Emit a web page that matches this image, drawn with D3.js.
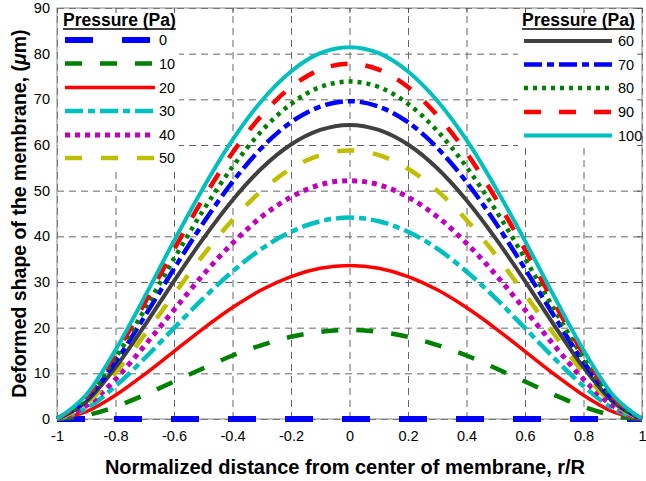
<!DOCTYPE html>
<html>
<head>
    <meta charset="utf-8">
    <title>Deformed membrane</title>
    <script src="https://cdn.jsdelivr.net/npm/d3@7"></script>
    <style>
        body { margin: 0; background: #fff; }
        text { font-family: "Liberation Sans", Arial, sans-serif; }
    </style>
</head>
<body>
<div id="chart"></div>
<script>
// normalized radius r/R
var positions = [-1, -0.9, -0.8, -0.7, -0.6, -0.5, -0.4, -0.3, -0.2, -0.1, 0, 0.1, 0.2, 0.3, 0.4, 0.5, 0.6, 0.7, 0.8, 0.9, 1];

// pressure of each curve (Pa)
var pressures = [0, 10, 20, 30, 40, 50, 60, 70, 80, 90, 100];

// deflection (um)
var p0   = [0, 0, 0, 0, 0, 0, 0, 0, 0, 0, 0, 0, 0, 0, 0, 0, 0, 0, 0, 0, 0];
var p10  = [0, 0.8, 2.7, 5.3, 8.2, 11.1, 13.9, 16.2, 18.0, 19.1, 19.5, 19.1, 18.0, 16.2, 13.9, 11.1, 8.2, 5.3, 2.7, 0.8, 0];
var p20  = [0, 1.6, 5.2, 9.8, 14.8, 19.8, 24.4, 28.3, 31.2, 33.0, 33.6, 33.0, 31.2, 28.3, 24.4, 19.8, 14.8, 9.8, 5.2, 1.6, 0];
var p30  = [0, 2.3, 7.2, 13.3, 19.9, 26.4, 32.3, 37.3, 41.0, 43.3, 44.1, 43.3, 41.0, 37.3, 32.3, 26.4, 19.9, 13.3, 7.2, 2.3, 0];
var p40  = [0, 2.9, 8.7, 16.1, 23.9, 31.6, 38.5, 44.3, 48.6, 51.3, 52.2, 51.3, 48.6, 44.3, 38.5, 31.6, 23.9, 16.1, 8.7, 2.9, 0];
var p50  = [0, 3.4, 10.1, 18.5, 27.3, 35.9, 43.6, 50.0, 54.8, 57.8, 58.8, 57.8, 54.8, 50.0, 43.6, 35.9, 27.3, 18.5, 10.1, 3.4, 0];
var p60  = [0, 3.8, 11.3, 20.5, 30.2, 39.5, 47.9, 54.9, 60.1, 63.3, 64.4, 63.3, 60.1, 54.9, 47.9, 39.5, 30.2, 20.5, 11.3, 3.8, 0];
var p70  = [0, 4.3, 12.5, 22.5, 32.9, 42.9, 51.9, 59.4, 65.0, 68.4, 69.6, 68.4, 65.0, 59.4, 51.9, 42.9, 32.9, 22.5, 12.5, 4.3, 0];
var p80  = [0, 4.6, 13.4, 24.0, 35.1, 45.7, 55.2, 63.1, 69.0, 72.7, 73.9, 72.7, 69.0, 63.1, 55.2, 45.7, 35.1, 24.0, 13.4, 4.6, 0];
var p90  = [0, 4.9, 14.3, 25.4, 37.1, 48.3, 58.3, 66.5, 72.7, 76.5, 77.8, 76.5, 72.7, 66.5, 58.3, 48.3, 37.1, 25.4, 14.3, 4.9, 0];
var p100 = [0, 5.3, 15.1, 26.8, 39.0, 50.6, 61.1, 69.7, 76.1, 80.1, 81.4, 80.1, 76.1, 69.7, 61.1, 50.6, 39.0, 26.8, 15.1, 5.3, 0];

var xTicks = [-1, -0.8, -0.6, -0.4, -0.2, 0, 0.2, 0.4, 0.6, 0.8, 1];
var yTicks = [0, 10, 20, 30, 40, 50, 60, 70, 80, 90];

// line styles, one per curve (matlab-ish)
var colors = ["#0000ff", "#008000", "#ff0000", "#00bfbf", "#bf00bf", "#bfbf00", "#404040", "#0000ff", "#008000", "#ff0000", "#00bfbf"];
var dashes = ["28,29", "17,18", null, "18,5,7,5", "5,5", "17,19", null, "18,5,7,5", "4,5", "17,18", null];
var widths = [6, 4.5, 3.5, 4.5, 5, 4.5, 4, 4.5, 4.5, 4.5, 4];

var series = [p0, p10, p20, p30, p40, p50, p60, p70, p80, p90, p100].map(function(vals, i) {
    return { pressure: pressures[i], values: vals.map(function(v, j) { return { r: positions[j], w: v }; }) };
});

var width = 646, height = 481;
var plotL = 57, plotR = 642, plotT = 8, plotB = 419;

var svg = d3.select("#chart").append("svg")
    .attr("width", width)
    .attr("height", height);

svg.append("rect").attr("width", width).attr("height", height).attr("fill", "#fff");

var x = d3.scaleLinear().domain([-1, 1]).range([plotL, plotR]);
var y = d3.scaleLinear().domain([0, 90]).range([plotB, plotT]);

// dashed grid
var grid = svg.append("g");
grid.append("g")
    .attr("transform", "translate(0," + plotB + ")")
    .call(d3.axisBottom(x).tickValues(xTicks).tickSize(-(plotB - plotT)).tickFormat(""))
    .call(function(g) { g.select(".domain").remove(); });
grid.append("g")
    .attr("transform", "translate(" + plotL + ",0)")
    .call(d3.axisLeft(y).tickValues(yTicks).tickSize(-(plotR - plotL)).tickFormat(""))
    .call(function(g) { g.select(".domain").remove(); });
grid.selectAll("line")
    .attr("stroke", "#666")
    .attr("stroke-width", 1)
    .attr("stroke-dasharray", "7,5");

// white legend boxes hide the grid behind them
svg.append("rect").attr("x", plotL + 1).attr("y", plotT + 1).attr("width", 121).attr("height", 159).attr("fill", "#fff");
svg.append("rect").attr("x", 518).attr("y", plotT + 1).attr("width", plotR - 519).attr("height", 138).attr("fill", "#fff");

// frame
svg.append("rect")
    .attr("x", plotL).attr("y", plotT)
    .attr("width", plotR - plotL).attr("height", plotB - plotT)
    .attr("fill", "none")
    .attr("stroke", "#888")
    .attr("stroke-width", 1);

// tick labels
var xAxis = svg.append("g")
    .attr("transform", "translate(0," + plotB + ")")
    .call(d3.axisBottom(x).tickValues(xTicks).tickSize(0).tickPadding(12)
        .tickFormat(function(d) { return String(+d.toFixed(1)); }));
xAxis.select(".domain").remove();
xAxis.selectAll("text").attr("font-size", 14.5).attr("fill", "#000")
    .attr("font-family", "'Liberation Sans', Arial, sans-serif");

var yAxis = svg.append("g")
    .attr("transform", "translate(" + plotL + ",0)")
    .call(d3.axisLeft(y).tickValues(yTicks).tickSize(0).tickPadding(7));
yAxis.select(".domain").remove();
yAxis.selectAll("text").attr("font-size", 14.5).attr("fill", "#000")
    .attr("font-family", "'Liberation Sans', Arial, sans-serif");

// curves
var line = d3.line()
    .x(function(d) { return x(d.r); })
    .y(function(d) { return y(d.w); })
    .curve(d3.curveMonotoneX);

svg.append("g").selectAll("path")
    .data(series)
    .enter()
    .append("path")
    .attr("d", function(d) { return line(d.values); })
    .attr("fill", "none")
    .attr("stroke", function(d, i) { return colors[i]; })
    .attr("stroke-width", function(d, i) { return widths[i]; })
    .attr("stroke-dasharray", function(d, i) { return dashes[i]; })
    .attr("stroke-linecap", "butt")
    .attr("stroke-linejoin", "round");

// small inward ticks on top and right edges
var topTicks = svg.append("g")
    .attr("transform", "translate(0," + plotT + ")")
    .call(d3.axisTop(x).tickValues(xTicks).tickSize(-5).tickFormat(""));
topTicks.select(".domain").remove();
topTicks.selectAll("line").attr("stroke", "#555");
var rightTicks = svg.append("g")
    .attr("transform", "translate(" + plotR + ",0)")
    .call(d3.axisRight(y).tickValues(yTicks).tickSize(-5).tickFormat(""));
rightTicks.select(".domain").remove();
rightTicks.selectAll("line").attr("stroke", "#555");

// legends
function legend(x0, textX, lineEnd, headerX, rowY, idx) {
    var g = svg.append("g");
    var hdr = g.append("text")
        .attr("x", headerX).attr("y", 26)
        .attr("font-size", 17.5).attr("font-weight", "bold")
        .text("Pressure (Pa)");
    var bb = hdr.node().getBBox();
    g.append("line")
        .attr("x1", bb.x).attr("x2", bb.x + bb.width)
        .attr("y1", 29).attr("y2", 29)
        .attr("stroke", "#000").attr("stroke-width", 1.3);
    idx.forEach(function(k, i) {
        var yy = rowY[i];
        g.append("line")
            .attr("x1", x0).attr("x2", lineEnd)
            .attr("y1", yy).attr("y2", yy)
            .attr("stroke", colors[k])
            .attr("stroke-width", widths[k])
            .attr("stroke-dasharray", dashes[k]);
        g.append("text")
            .attr("x", textX).attr("y", yy + 5)
            .attr("font-size", 14.5)
            .text(pressures[k]);
    });
}
legend(65, 159, 155, 63, [40, 63.5, 87.5, 111, 135, 158], [0, 1, 2, 3, 4, 5]);
legend(524, 618, 612, 522, [41, 64.5, 88, 112, 135.5], [6, 7, 8, 9, 10]);

// axis titles
svg.append("text")
    .attr("x", 345).attr("y", 474)
    .attr("text-anchor", "middle")
    .attr("font-size", 20).attr("font-weight", "bold")
    .text("Normalized distance from center of membrane, r/R");

var yt = svg.append("text")
    .attr("transform", "translate(26," + ((plotT + plotB) / 2) + ") rotate(-90)")
    .attr("text-anchor", "middle")
    .attr("font-size", 19.5).attr("font-weight", "bold");
yt.append("tspan").text("Deformed shape of the membrane, (");
yt.append("tspan").attr("font-style", "italic").text("\u03bc");
yt.append("tspan").text("m)");
</script>
</body>
</html>
